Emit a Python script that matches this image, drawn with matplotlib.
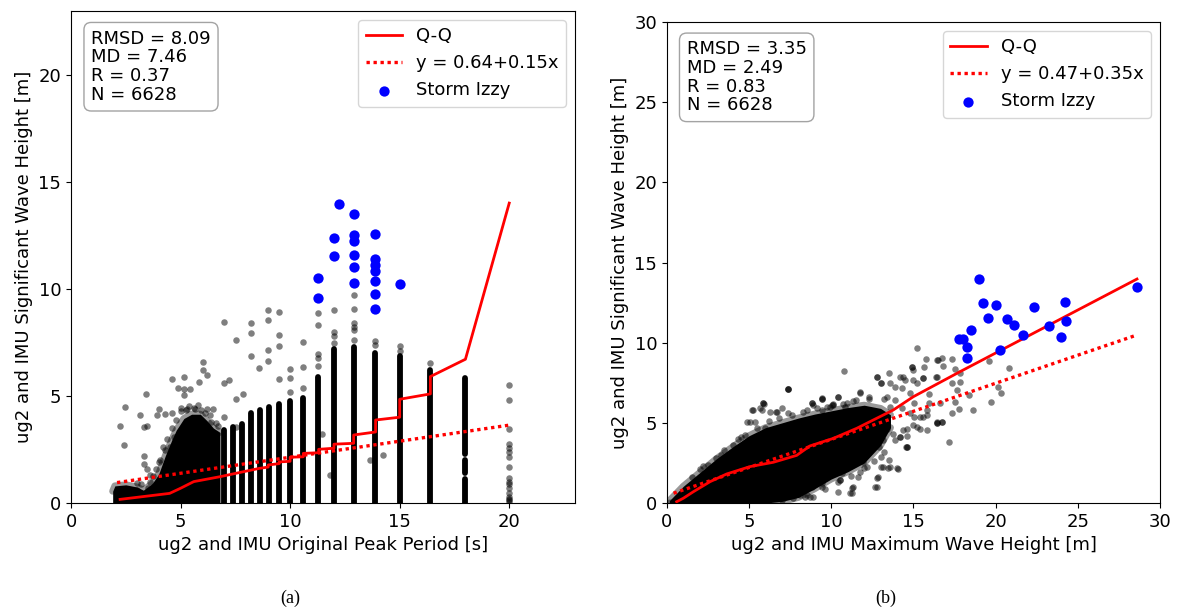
import matplotlib

matplotlib.use("Agg")
import matplotlib.pyplot as plt


# ---- panel (a): peak period vs significant wave height ----
# low-period cloud, filled from zero up to its upper edge
cloud_x = [1.9, 2.0, 2.5, 3.0, 3.3, 3.7, 4.0, 4.3, 4.6, 4.8, 5.15, 5.5, 5.9, 6.2,
           6.5, 6.8]
cloud_hi = [0.55, 0.8, 0.85, 0.75, 0.6, 0.9, 1.35, 2.2, 2.95, 3.4, 3.95, 4.15, 4.15,
            3.85, 3.5, 3.3]

# dense columns of points, one (period, lowest, highest) triple per run
seg_period = [6.96, 7.41, 7.82, 8.2, 8.63, 9.04, 9.5, 10.0, 10.6, 11.27, 12.0, 12.9,
              13.88, 15.0, 16.4, 18.0, 18.0, 18.0]
seg_lo = [0.0, 0.0, 0.0, 0.0, 0.0, 0.0, 0.0, 0.0, 0.0, 0.0, 0.0, 0.0,
          0.0, 0.0, 0.0, 2.3, 1.4, 0.0]
seg_hi = [3.4, 3.55, 3.7, 4.2, 4.35, 4.5, 4.65, 4.75, 4.9, 5.9, 7.2, 7.3,
          7.0, 6.85, 6.2, 5.85, 2.0, 1.1]

# scattered single points
pts_a_x = [2.9, 3.0, 3.1, 3.2, 3.3, 3.4, 3.5, 3.6, 3.7, 3.8, 3.0, 3.25, 3.55, 2.95,
           3.9, 3.75, 3.45, 4.0, 4.15, 4.05, 4.5, 4.3, 4.7,
           4.0, 4.2, 4.4, 4.6, 4.8, 5.0, 5.4, 5.8, 6.1, 6.4, 6.7, 3.9, 3.6, 5.25, 5.65,
           9.01, 9.5, 9.01, 8.2, 6.96, 8.2, 9.5, 7.52, 9.5, 9.01, 8.2, 9.01, 6.01, 8.6,
           6.01, 6.22, 4.63, 5.16, 5.83, 6.96, 7.21, 9.5, 4.89, 5.16, 5.43, 5.16, 3.42,
           7.52, 7.87, 2.48, 4.03, 5.02, 6.22, 6.47, 3.14, 3.91, 4.31, 4.63, 2.22, 3.35,
           3.47, 2.42, 3.35, 3.32, 6.96, 7.52, 5.3, 5.6, 5.95, 6.35, 6.6,
           10.0, 10.0, 10.0, 10.6, 10.6, 10.6, 11.27, 11.27, 11.27, 11.27, 11.27,
           12.0, 12.0, 12.0, 12.0, 12.9, 12.9, 12.9, 12.9, 12.9, 12.9,
           13.88, 13.88, 15.0, 15.0, 16.4,
           20.0, 20.0, 20.0, 20.0, 20.0, 20.0, 20.0, 20.0, 20.0, 20.0, 20.0, 20.0,
           20.0, 20.0, 20.0, 20.0, 20.0,
           11.45, 14.26, 13.65, 11.83]
pts_a_y = [0.2, 0.6, 0.1, 0.9, 0.4, 0.05, 0.7, 1.0, 0.3, 0.8, 0.95, 0.25, 0.15, 0.45,
           0.5, 1.25, 1.6, 0.15, 0.9, 2.0, 2.6, 2.5, 3.1,
           1.9, 2.6, 3.0, 3.5, 3.9, 4.3, 4.55, 4.6, 4.2, 3.8, 3.6, 1.6, 1.3, 4.35, 4.4,
           9.0, 8.95, 8.56, 8.41, 8.47, 7.94, 7.85, 7.6, 7.35, 7.16, 6.88, 6.64, 6.6, 6.32,
           6.21, 5.99, 5.8, 5.91, 5.66, 5.63, 5.76, 5.82, 5.37, 5.32, 5.32, 5.05, 5.1,
           4.85, 5.1, 4.49, 4.41, 4.45, 4.41, 4.41, 4.12, 4.13, 4.16, 4.2, 3.59, 3.54,
           3.6, 2.73, 2.2, 1.81, 4.04, 3.57, 4.4, 4.45, 4.35, 4.1, 3.75,
           5.85, 6.26, 5.2, 5.38, 6.38, 7.52, 8.9, 8.3, 6.97, 6.8, 6.4,
           9.0, 8.0, 7.8, 7.5, 9.73, 9.06, 8.4, 8.25, 8.1, 7.63,
           7.58, 7.4, 7.36, 7.1, 6.54,
           5.52, 4.82, 3.45, 2.76, 2.56, 2.4, 2.17, 1.7, 1.16, 1.0, 0.89, 0.69,
           0.45, 0.3, 0.2, 0.14, 0.05,
           3.23, 2.26, 2.01, 1.31]

izzy_a_x = [12.25, 12.9, 12.02, 12.02, 12.9, 12.9, 12.9, 12.9, 12.9, 13.88,
            13.88, 13.88, 13.88, 13.88, 13.88, 13.88, 15.02, 11.28, 11.28]
izzy_a_y = [13.99, 13.51, 12.39, 11.53, 12.51, 12.26, 11.57, 11.04, 10.28, 12.57,
            11.40, 11.14, 10.83, 10.40, 9.79, 9.09, 10.23, 10.53, 9.58]

qq_a_x = [2.24, 4.5, 5.0, 5.6, 6.8, 7.9, 8.6, 9.0, 9.0, 9.5, 9.5, 10.0, 10.0, 10.6,
          10.6, 11.3, 11.3, 12.0, 12.0, 12.9, 12.9, 13.9, 13.9, 15.0, 15.0, 16.4,
          16.4, 18.0, 20.0]
qq_a_y = [0.17, 0.45, 0.69, 1.0, 1.23, 1.47, 1.62, 1.68, 1.78, 1.84, 1.92, 1.95,
          2.14, 2.16, 2.32, 2.35, 2.51, 2.56, 2.75, 2.79, 3.18, 3.32, 3.88, 4.01,
          4.85, 5.1, 5.91, 6.72, 14.02]

fit_a = (0.64, 0.15)
fit_a_range = (2.1, 20.0)
stats_a = "RMSD = 8.09\nMD = 7.46\nR = 0.37\nN = 6628"

# ---- panel (b): maximum vs significant wave height ----
band_x = [0.15, 1, 2, 3, 4, 5, 6, 7, 8, 9, 10, 11, 12, 13, 13.6]
band_hi = [0.15, 1.05, 1.9, 2.75, 3.5, 4.2, 4.7, 5.0, 5.3, 5.55, 5.75, 5.95, 6.1, 5.9,
           5.5]
band_lo = [0.0, 0.0, 0.0, 0.0, 0.0, 0.0, 0.0, 0.1, 0.35, 0.9, 1.5, 1.95, 2.5, 3.6,
           4.7]

pts_b_x = [15.22, 10.75, 15.78, 16.49, 16.76, 17.35, 14.91, 15.64, 16.82, 17.55,
           19.62, 20.84, 12.8, 13.53, 14.38, 15.56, 16.37, 17.83, 13.04, 13.9,
           14.28, 14.5, 15.2, 17.35, 17.83, 20.17, 17.67, 20.33, 11.75, 9.43,
           10.43, 12.27, 13.37, 14.79, 15.93, 18.36, 8.81, 10.12, 11.34, 15.05,
           15.93, 16.62, 19.74, 17.55, 18.6, 17.35, 17.79, 15.03, 15.81, 16.45,
           16.72, 15.4, 14.99, 14.18, 14.61, 17.16, 14.55, 13.53, 13.17, 13.77,
           12.92, 12.4, 7.38, 5.25, 5.86, 6.27, 6.68, 6.98, 5.66, 5.05,
           2.17, 8.5, 8.9, 9.45, 9.72, 10.12, 10.53, 11.34, 11.24, 11.64,
           10.53, 12.86, 12.76, 13.57, 14.04, 13.17, 11.95, 10.22, 9.31, 9.72,
           8.5, 8.3, 8.09, 8.9, 14.59, 16.41, 16.72, 15.6, 15.8, 14.89,
           16.45, 13.03, 14.99, 5.19, 5.88, 5.76, 7.35, 4.87, 5.36, 4.75,
           5.96, 6.37, 9.42, 10.83, 11.24, 7.59, 8.4, 9.42, 10.63, 10.43,
           8.81, 6.98, 12.1, 12.6, 13.3, 11.8,
           7.38, 5.86, 6.63, 7.38, 8.81, 9.42, 10.43, 10.02, 10.97, 11.75,
           12.76, 13.57, 14.18, 15.0, 15.56, 16.41, 14.79, 15.4, 16.41, 14.59,
           13.98, 13.47, 12.76, 12.66, 11.24, 11.14, 10.53, 9.42, 8.5, 7.69,
           12.15, 11.75, 13.0, 13.0, 12.36, 15.2, 15.8, 14.38, 14.18,
           1.5, 2.5, 3.0, 3.5, 4.0, 4.5, 2.0, 3.3, 4.3, 13.2, 13.6, 12.9, 13.4,
           5.5, 6.2, 6.8, 7.6, 8.3, 9.1, 9.9, 10.7, 11.5, 12.3, 13.9, 14.3,
           8.7, 9.6, 10.4, 11.2, 12.0, 12.6, 13.2, 13.9, 14.6]
pts_b_y = [9.69, 8.25, 8.96, 8.92, 9.03, 8.96, 8.5, 8.5, 8.55, 8.38,
           8.88, 8.42, 7.88, 8.09, 7.84, 7.8, 7.88, 8.09, 7.47, 7.26,
           7.19, 7.67, 7.47, 7.47, 7.55, 7.26, 7.05, 6.88, 6.9, 6.51,
           6.63, 6.63, 6.63, 6.84, 6.8, 6.76, 6.22, 6.18, 6.34, 6.22,
           6.26, 6.22, 6.3, 6.3, 5.8, 5.6, 5.85, 5.38, 5.49, 5.01,
           5.05, 4.6, 4.87, 4.14, 4.18, 3.81, 3.47, 2.68, 3.93, 4.3,
           3.51, 3.97, 7.13, 5.8, 6.22, 5.7, 5.7, 5.9, 5.9, 5.07,
           2.31, 5.8, 6.11, 6.49, 6.0, 6.11, 5.28, 1.02, 0.6, 1.64,
           1.43, 1.64, 1.02, 2.26, 2.1, 2.26, 2.58, 2.58, 2.06, 1.85,
           1.85, 1.02, 0.5, 0.39, 3.51, 4.97, 5.07, 5.38, 5.8, 8.47,
           8.92, 7.47, 7.67, 5.8, 6.18, 5.8, 7.09, 5.05, 5.07, 4.24,
           4.66, 4.55, 5.8, 6.01, 5.6, 0.6, 0.39, 1.23, 1.85, 0.7,
           1.02, 0.19, 3.4, 4.9, 5.3, 2.9,
           7.11, 6.22, 5.7, 5.63, 6.22, 6.53, 6.59, 6.11, 6.22, 6.84,
           7.88, 7.47, 7.88, 8.3, 7.78, 7.88, 5.6, 5.38, 5.07, 3.51,
           2.16, 2.16, 1.54, 1.02, 0.92, 0.6, 1.43, 1.02, 0.5, 0.29,
           2.26, 1.95, 2.26, 2.89, 3.82, 4.76, 4.55, 4.55, 4.14,
           1.6, 2.4, 2.8, 3.3, 3.6, 4.1, 2.1, 3.0, 4.0, 6.5, 6.0, 5.2, 4.6,
           4.7, 5.1, 5.3, 5.5, 5.7, 5.9, 6.0, 6.2, 6.4, 6.5, 6.4, 5.9,
           0.4, 0.9, 1.3, 1.7, 2.2, 2.6, 3.2, 3.9, 4.6]

izzy_b_x = [18.97, 19.25, 20.0, 19.54, 20.69, 21.1, 18.52, 17.75, 18.04, 18.24,
            18.24, 20.29, 21.69, 22.36, 23.27, 24.2, 24.28, 24.0, 28.59]
izzy_b_y = [13.95, 12.46, 12.35, 11.54, 11.50, 11.08, 10.79, 10.25, 10.21, 9.75,
            9.05, 9.54, 10.48, 12.21, 11.02, 12.54, 11.35, 10.36, 13.45]

qq_b_x = [0.59, 1.0, 1.6, 2.62, 3.63, 5.05, 6.47, 7.89, 8.7, 10.12, 11.55, 12.56,
          13.77, 14.99, 17.83, 28.6]
qq_b_y = [0.08, 0.3, 0.7, 1.33, 1.81, 2.27, 2.54, 2.97, 3.56, 4.03, 4.66, 5.18,
          5.80, 6.63, 8.19, 13.97]

fit_b = (0.47, 0.35)
fit_b_range = (0.4, 28.5)
stats_b = "RMSD = 3.35\nMD = 2.49\nR = 0.83\nN = 6628"

FONT_SIZE = 13
DOT_SIZE = 22
DOT_LW_PT = 4.2


def draw_panel(ax, xlabel, qq_x, qq_y, fit, fit_range, izzy_x, izzy_y, stats):
    ax.plot(qq_x, qq_y, color="red", lw=2, label="Q-Q", zorder=4)
    fx = list(fit_range)
    fy = [fit[0] + fit[1] * v for v in fx]
    ax.plot(fx, fy, color="red", lw=2.4, ls=(0, (1, 1.1)),
            label=f"y = {fit[0]:.2f}+{fit[1]:.2f}x", zorder=4)
    ax.scatter(izzy_x, izzy_y, s=55, color="blue", label="Storm Izzy", zorder=5,
               linewidths=0)
    ax.set_xlabel(xlabel, fontsize=FONT_SIZE)
    ax.set_ylabel("ug2 and IMU Significant Wave Height [m]", fontsize=FONT_SIZE)
    ax.tick_params(labelsize=FONT_SIZE)
    ax.legend(loc="upper right", fontsize=FONT_SIZE, handlelength=2.0)
    ax.text(0.04, 0.962, stats, transform=ax.transAxes, va="top", ha="left",
            fontsize=FONT_SIZE, linespacing=1.05,
            bbox=dict(boxstyle="round,pad=0.4", facecolor="white",
                      edgecolor="0.6", alpha=0.9))


def main():
    fig = plt.figure(figsize=(11.78, 6.10), dpi=100)
    ax_a = fig.add_axes([0.0603, 0.1754, 0.4278, 0.8066])
    ax_b = fig.add_axes([0.5662, 0.1754, 0.4185, 0.7885])

    # panel (a)
    ax_a.fill_between(cloud_x, 0, cloud_hi, color="black", lw=0, zorder=2)
    ax_a.plot(cloud_x, cloud_hi, color="black", alpha=0.4, lw=5,
              solid_capstyle="round", zorder=2)
    ax_a.vlines(seg_period, seg_lo, seg_hi, color="black",
                lw=DOT_LW_PT, capstyle="round", zorder=2)
    ax_a.scatter(pts_a_x, pts_a_y, s=DOT_SIZE, color="black", alpha=0.5,
                 linewidths=0, zorder=2)
    draw_panel(ax_a, "ug2 and IMU Original Peak Period [s]", qq_a_x, qq_a_y,
               fit_a, fit_a_range, izzy_a_x, izzy_a_y, stats_a)
    ax_a.set_xlim(0, 23)
    ax_a.set_ylim(0, 23)
    ax_a.set_xticks([0, 5, 10, 15, 20])
    ax_a.set_yticks([0, 5, 10, 15, 20])

    # panel (b)
    ax_b.fill_between(band_x, band_lo, band_hi, color="black", lw=0, zorder=2)
    for edge in (band_hi, band_lo):
        ax_b.plot(band_x, edge, color="black", alpha=0.4, lw=5,
                  solid_capstyle="round", zorder=2)
    ax_b.scatter(pts_b_x, pts_b_y, s=DOT_SIZE, color="black", alpha=0.5,
                 linewidths=0, zorder=2)
    draw_panel(ax_b, "ug2 and IMU Maximum Wave Height [m]", qq_b_x, qq_b_y,
               fit_b, fit_b_range, izzy_b_x, izzy_b_y, stats_b)
    ax_b.set_xlim(0, 30)
    ax_b.set_ylim(0, 30)
    ax_b.set_xticks([0, 5, 10, 15, 20, 25, 30])
    ax_b.set_yticks([0, 5, 10, 15, 20, 25, 30])

    for x, label in [(290, "(a)"), (886, "(b)")]:
        fig.text(x / 1178, 1 - 598 / 610, label, ha="center", va="center",
                 fontsize=13, family="Liberation Serif")

    fig.savefig("out.png", dpi=100)
    plt.close(fig)


if __name__ == "__main__":
    main()
